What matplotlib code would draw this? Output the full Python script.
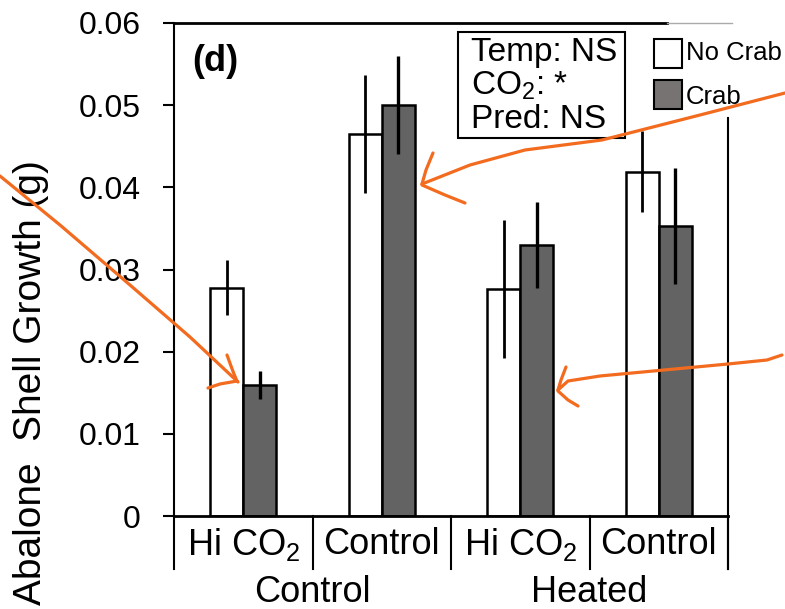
import numpy as np
import matplotlib
matplotlib.use("Agg")
import matplotlib.pyplot as plt
from matplotlib.patches import Rectangle
from matplotlib.lines import Line2D

plt.rcParams['font.family'] = ['Liberation Sans', 'DejaVu Sans']
plt.rcParams['mathtext.fontset'] = 'custom'
plt.rcParams['mathtext.rm'] = 'Liberation Sans'
plt.rcParams['mathtext.it'] = 'Liberation Sans:italic'

# data
co2_labels = ['Hi CO$_2$', 'Control', 'Hi CO$_2$', 'Control']
temp_labels = ['Control', 'Heated']
no_crab = [0.0278, 0.0465, 0.0276, 0.0419]
no_crab_err = [0.0033, 0.0072, 0.0084, 0.0049]
crab = [0.0160, 0.0500, 0.0330, 0.0353]
crab_err = [0.0017, 0.0060, 0.0052, 0.0071]
yticks = [0, 0.01, 0.02, 0.03, 0.04, 0.05, 0.06]
ytick_labels = ['0', '0.01', '0.02', '0.03', '0.04', '0.05', '0.06']
stats_lines = ['Temp: NS', 'CO$_2$: *', 'Pred: NS']

W, H = 785, 609
fig = plt.figure(figsize=(W / 100, H / 100), dpi=100)
ax = fig.add_axes([174 / W, 1 - 516 / H, (728 - 174) / W, (516 - 23) / H])

x = np.arange(len(co2_labels)) + 0.5
w = 0.24
ekw = dict(elinewidth=2, capsize=0, ecolor='black')
ax.bar(x - w / 2, no_crab, w, yerr=no_crab_err, color='white',
       edgecolor='black', linewidth=1.8, error_kw=ekw, zorder=3)
ax.bar(x + w / 2, crab, w, yerr=crab_err, color='#636363',
       edgecolor='black', linewidth=1.8,
       error_kw=dict(ekw, elinewidth=2.4), zorder=3)

ax.set_xlim(0, 4)
ax.set_ylim(0, 0.06)
ax.set_yticks(yticks)
ax.set_yticklabels(ytick_labels)
ax.set_xticks([])
ax.tick_params(axis='y', direction='out', length=8, width=1.5, pad=16,
               labelsize=23)
for s in ['top', 'right', 'bottom']:
    ax.spines[s].set_visible(False)
ax.spines['left'].set_linewidth(1.5)

xt = ax.get_xaxis_transform()
# bottom axis line and category separators below the axis
ax.plot([0, 4], [0, 0], color='black', lw=2, transform=xt, clip_on=False,
        zorder=4)
for xs in range(5):
    ax.plot([xs, xs], [0, -0.1075], color='black', lw=1.5, transform=xt,
            clip_on=False)
# right frame line
ax.plot([1, 1], [-0.1075, 0.807], color='black', lw=1.5,
        transform=ax.transAxes, clip_on=False)
# top line
ax.plot([0, 0.89], [1, 1], color='black', lw=2, transform=ax.transAxes,
        clip_on=False)
ax.plot([0.89, 1.007], [1, 1], color='#aaaaaa', lw=1, transform=ax.transAxes,
        clip_on=False)

for xi, lab in zip(x, co2_labels):
    ax.text(xi, -0.058, lab, transform=xt, ha='center', va='center',
            fontsize=26)
for gi, lab in enumerate(temp_labels):
    ax.text(2 * gi + 1, -0.155, lab, transform=xt, ha='center',
            va='center', fontsize=26)

fig.text(31 / W, 1 - 383 / H, 'Abalone  Shell Growth (g)', rotation=90,
         ha='center', va='center', fontsize=28)

ax.text(0.074, 0.921, '(d)', transform=ax.transAxes, ha='center',
        va='center', fontsize=26, fontweight='bold')

# stats box
ax.add_patch(Rectangle((0.513, 0.767), 0.301, 0.215, transform=ax.transAxes,
                       fc='white', ec='black', lw=1.5, clip_on=False,
                       zorder=5))
for line, yp in zip(stats_lines, [52, 86, 120]):
    ax.text((471 - 174) / 554, (516 - yp) / 493, line,
            transform=ax.transAxes, ha='left', va='center', fontsize=24,
            zorder=6)

# legend
for (fc, label, ytop, ytxt) in [('white', 'No Crab', 39, 53),
                                 ('#777373', 'Crab', 80, 97)]:
    fig.add_artist(Rectangle((654 / W, 1 - (ytop + 29) / H), 28 / W, 29 / H,
                             transform=fig.transFigure, fc=fc, ec='black',
                             lw=1.5))
    fig.text(686 / W, 1 - ytxt / H, label, ha='left', va='center',
             fontsize=18.5)

# orange hand-drawn arrows (pixel coords of the overlay)
strokes = [
    [(0, 176), (60, 225), (130, 285), (190, 337), (238, 382)],
    [(227, 355), (231, 366), (234, 374), (237, 381)],
    [(208, 388), (220, 384), (237, 381)],
    [(785, 93), (700, 115), (602, 140), (525, 150), (470, 165), (422, 184)],
    [(433, 153), (426, 170), (422, 184)],
    [(422, 185), (445, 195), (465, 203)],
    [(782, 355), (767, 360), (728, 364), (600, 376), (568, 381), (558, 390)],
    [(566, 367), (561, 380), (558, 390)],
    [(558, 391), (568, 400), (578, 406)],
]
for st in strokes:
    px = np.array(st, dtype=float)
    fig.add_artist(Line2D(px[:, 0] / W, 1 - px[:, 1] / H,
                          transform=fig.transFigure, color='#f26b1f',
                          lw=2.3, solid_capstyle='round',
                          solid_joinstyle='round', zorder=10))

fig.savefig('out.png', dpi=100)
